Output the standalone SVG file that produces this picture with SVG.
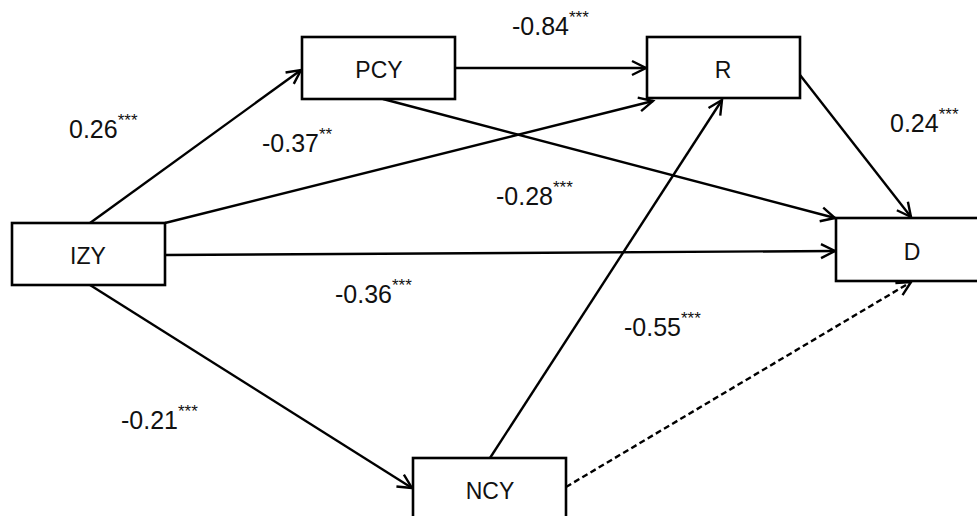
<svg xmlns="http://www.w3.org/2000/svg" width="977" height="516" viewBox="0 0 977 516">
<style>
.box{fill:#fff;stroke:#000;stroke-width:2.6}
.nl{font-family:"Liberation Sans",Arial,sans-serif;font-size:23px;fill:#111;text-anchor:middle}
.c{stroke:#000;stroke-width:2.4;fill:none;marker-end:url(#ah)}
.d{stroke-dasharray:6,3.5}
.lb{font-family:"Liberation Sans",Arial,sans-serif;font-size:25px;fill:#111}
.st{font-size:17px}
</style>
<defs>
<marker id="ah" markerUnits="userSpaceOnUse" markerWidth="18" markerHeight="18" refX="15" refY="8" orient="auto" viewBox="0 0 18 16">
<path d="M1,1 L15,8 L1,15" fill="none" stroke="#000" stroke-width="2.4"/>
</marker>
</defs>
<g id="connectors">
<line class="c" x1="90" y1="223" x2="301" y2="70"/>
<line class="c" x1="455" y1="68" x2="646" y2="68"/>
<line class="c" x1="165" y1="223" x2="653" y2="101"/>
<line class="c" x1="383" y1="99" x2="835" y2="218"/>
<line class="c" x1="165" y1="255" x2="835" y2="251"/>
<line class="c" x1="800" y1="75" x2="911" y2="217"/>
<line class="c" x1="90" y1="285" x2="412" y2="488"/>
<line class="c" x1="490" y1="458" x2="722" y2="100"/>
<line class="c d" x1="566" y1="487" x2="911" y2="282"/>
</g>
<g id="IZY"><rect class="box" x="12" y="223" width="153" height="62"/><text class="nl" x="88" y="264">IZY</text></g>
<g id="PCY"><rect class="box" x="302" y="37" width="153" height="62"/><text class="nl" x="379" y="78">PCY</text></g>
<g id="R"><rect class="box" x="647" y="37" width="153" height="61"/><text class="nl" x="723" y="78">R</text></g>
<g id="D"><rect class="box" x="836" y="218" width="145" height="63"/><text class="nl" x="912" y="260">D</text></g>
<g id="NCY"><rect class="box" x="413" y="458" width="153" height="62"/><text class="nl" x="490" y="499">NCY</text></g>
<g id="labels">
<text class="lb" x="69" y="138">0.26<tspan class="st" dy="-12">***</tspan></text>
<text class="lb" x="512" y="35">-0.84<tspan class="st" dy="-12">***</tspan></text>
<text class="lb" x="262" y="152">-0.37<tspan class="st" dy="-12">**</tspan></text>
<text class="lb" x="496" y="205">-0.28<tspan class="st" dy="-12">***</tspan></text>
<text class="lb" x="890" y="132">0.24<tspan class="st" dy="-12">***</tspan></text>
<text class="lb" x="335" y="303">-0.36<tspan class="st" dy="-12">***</tspan></text>
<text class="lb" x="624" y="336">-0.55<tspan class="st" dy="-12">***</tspan></text>
<text class="lb" x="121" y="429">-0.21<tspan class="st" dy="-12">***</tspan></text>
</g>
</svg>
